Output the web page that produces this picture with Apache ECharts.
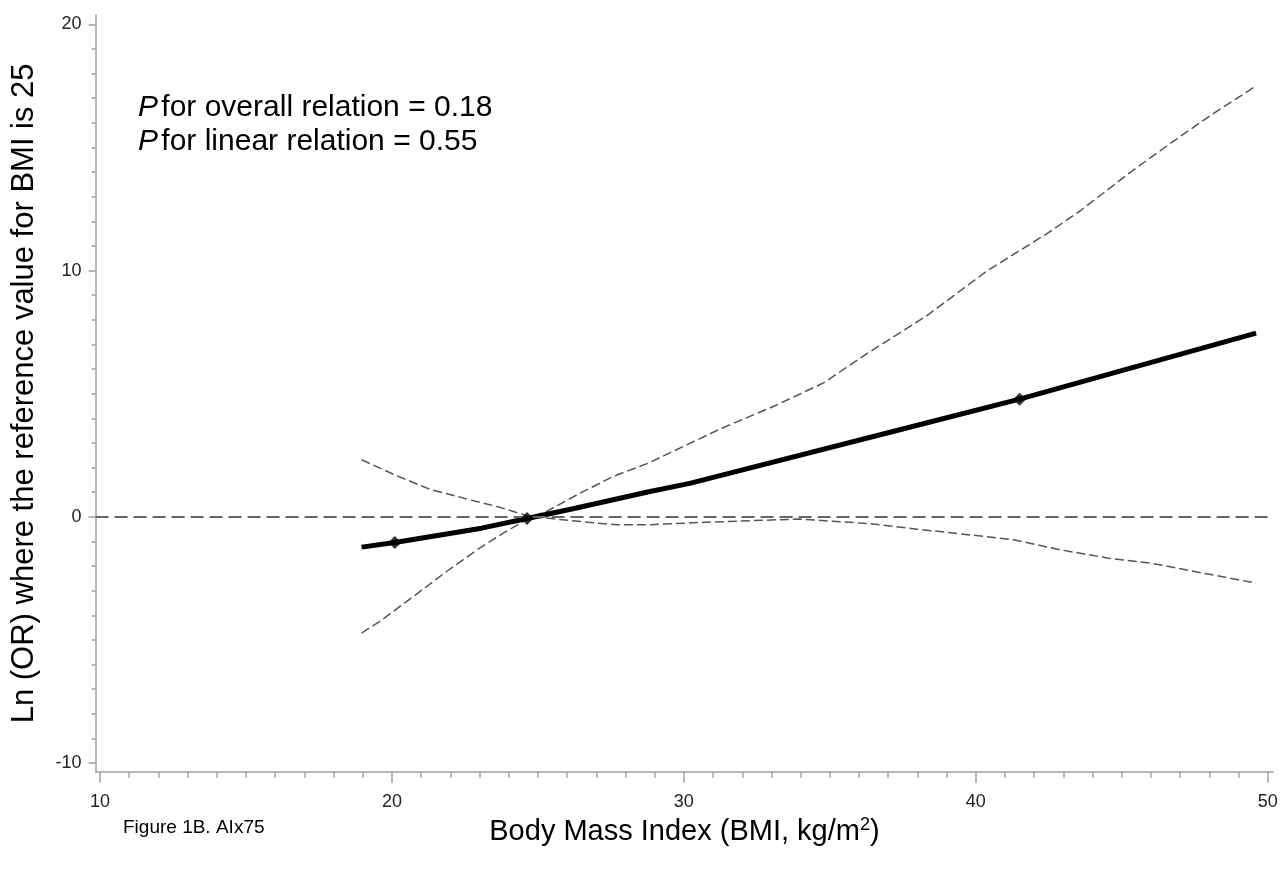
<!DOCTYPE html>
<html>
<head>
<meta charset="utf-8">
<script src="https://cdn.jsdelivr.net/npm/echarts@6/dist/echarts.min.js"></script>
<style>
html,body{margin:0;padding:0;background:#fff;}
#chart{width:1281px;height:870px;}
</style>
</head>
<body>
<div id="chart"></div>
<script>
// ---- data ----
var estimate = [[18.96,-1.23],[20.1,-1.04],[23.07,-0.46],[24.63,-0.07],[26.2,0.33],[28.84,1.03],[30.2,1.36],[38.0,3.72],[41.5,4.78],[49.6,7.46]];
var knots = [[20.1,-1.04],[24.63,-0.07],[41.5,4.78]];
var upperCI = [[18.96,2.32],[20.16,1.67],[21.3,1.12],[22.22,0.83],[22.9,0.62],[23.6,0.42],[24.27,0.18],[24.75,0],[25.3,0.22],[26.44,0.96],[27.58,1.64],[28.78,2.18],[30.0,2.87],[31.3,3.6],[33.1,4.5],[34.8,5.45],[36.3,6.65],[38.3,8.15],[40.4,10.0],[42.5,11.55],[43.6,12.45],[45.3,14.0],[46.7,15.2],[48.1,16.35],[49.6,17.5]];
var lowerCI = [[18.96,-4.72],[19.58,-4.25],[20.73,-3.24],[21.87,-2.22],[23.0,-1.27],[23.9,-0.6],[24.6,-0.12],[24.75,0],[25.3,-0.05],[26.1,-0.15],[27.0,-0.25],[27.7,-0.32],[28.8,-0.32],[30.75,-0.22],[33.97,-0.09],[36.4,-0.28],[38.0,-0.5],[41.3,-0.93],[42.9,-1.34],[44.55,-1.68],[46.0,-1.88],[47.8,-2.29],[49.6,-2.69]];
var referenceValue = 0;
var xTickLabels = [10,20,30,40,50];
var yTickLabels = [-10,0,10,20];
var xRange = [9.85, 50.19];
var yRange = [-10.35, 20.38];
var pOverall = '0.18';
var pLinear = '0.55';

// minor tick positions (every 1 unit)
var xMinor = [], yMinor = [];
for (var i = xTickLabels[0]; i <= xTickLabels[xTickLabels.length-1]; i++) xMinor.push(i);
for (var j = yTickLabels[0]; j <= yTickLabels[yTickLabels.length-1]; j++) yMinor.push(j);

var FONT = 'Liberation Sans, Arial, sans-serif';
var axisGray = '#a0a0a0';

var chart = echarts.init(document.getElementById('chart'), null, {renderer:'canvas'});
chart.setOption({
  animation: false,
  backgroundColor: '#fff',
  grid: {left: 95.6, right: 7.7, top: 15, bottom: 98.3, outerBoundsMode: 'none', containLabel: false},
  xAxis: [{
    type: 'value', min: xRange[0], max: xRange[1], position: 'bottom',
    axisLine: {show: true, onZero: false, lineStyle: {color: axisGray, width: 1.5}},
    axisTick: {show: true, customValues: xTickLabels, length: 11, lineStyle: {color: axisGray, width: 1.5}},
    axisLabel: {show: true, customValues: xTickLabels, margin: 21, color: '#222', fontSize: 18, fontFamily: FONT},
    splitLine: {show: false},
    name: '{a|Body Mass Index (BMI, kg/m}{s|2}{a|)}',
    nameLocation: 'middle', nameGap: 44,
    nameTextStyle: {rich: {
      a: {fontSize: 29, color: '#000', fontFamily: FONT},
      s: {fontSize: 18, color: '#000', fontFamily: FONT, padding: [0,0,14,0]}
    }}
  },{
    type: 'value', min: xRange[0], max: xRange[1], position: 'bottom', gridIndex: 0,
    axisLine: {show: false, onZero: false},
    axisTick: {show: true, customValues: xMinor, length: 6, lineStyle: {color: axisGray, width: 1.5}},
    axisLabel: {show: false},
    splitLine: {show: false}
  }],
  yAxis: [{
    type: 'value', min: yRange[0], max: yRange[1], position: 'left',
    axisLine: {show: true, onZero: false, lineStyle: {color: axisGray, width: 1.5}},
    axisTick: {show: true, customValues: yTickLabels, length: 7, lineStyle: {color: axisGray, width: 1.5}},
    axisLabel: {show: true, customValues: yTickLabels, margin: 14, color: '#222', fontSize: 18, fontFamily: FONT},
    splitLine: {show: false},
    name: 'Ln (OR) where the reference value for BMI is 25',
    nameLocation: 'middle', nameGap: 56,
    nameTextStyle: {fontSize: 31, color: '#000', fontFamily: FONT}
  },{
    type: 'value', min: yRange[0], max: yRange[1], position: 'left', gridIndex: 0,
    axisLine: {show: false, onZero: false},
    axisTick: {show: true, customValues: yMinor, length: 4, lineStyle: {color: axisGray, width: 1.5}},
    axisLabel: {show: false},
    splitLine: {show: false}
  }],
  series: [
    {
      type: 'line', name: 'upper', data: upperCI, showSymbol: false, symbol: 'none',
      lineStyle: {color: '#555', width: 1.5, type: [9,4]}, z: 2,
      markLine: {
        silent: true, symbol: 'none', label: {show: false},
        lineStyle: {color: '#666', width: 2.2, type: [13,6]},
        data: [{yAxis: referenceValue}]
      }
    },
    {
      type: 'line', name: 'lower', data: lowerCI, showSymbol: false, symbol: 'none',
      lineStyle: {color: '#555', width: 1.5, type: [9,4]}, z: 2
    },
    {
      type: 'line', name: 'estimate', data: estimate, showSymbol: false, symbol: 'none',
      lineStyle: {color: '#000', width: 5}, z: 4
    },
    {
      type: 'scatter', name: 'knots', data: knots, symbol: 'diamond', symbolSize: 13,
      itemStyle: {color: '#000'}, z: 5
    }
  ],
  graphic: [
    {
      type: 'text', left: 138, top: 93,
      style: {
        text: '{i|P} {n|for overall relation = ' + pOverall + '}\n{i|P} {n|for linear relation = ' + pLinear + '}',
        rich: {
          i: {fontSize: 30, fontStyle: 'italic', fontFamily: FONT, fill: '#000', lineHeight: 34},
          n: {fontSize: 30, fontFamily: FONT, fill: '#000', lineHeight: 34}
        }
      }
    },
    {
      type: 'text', left: 123, top: 818,
      style: {text: 'Figure 1B. AIx75', fontSize: 19, fontFamily: FONT, fill: '#000'}
    }
  ]
});
</script>
</body>
</html>
